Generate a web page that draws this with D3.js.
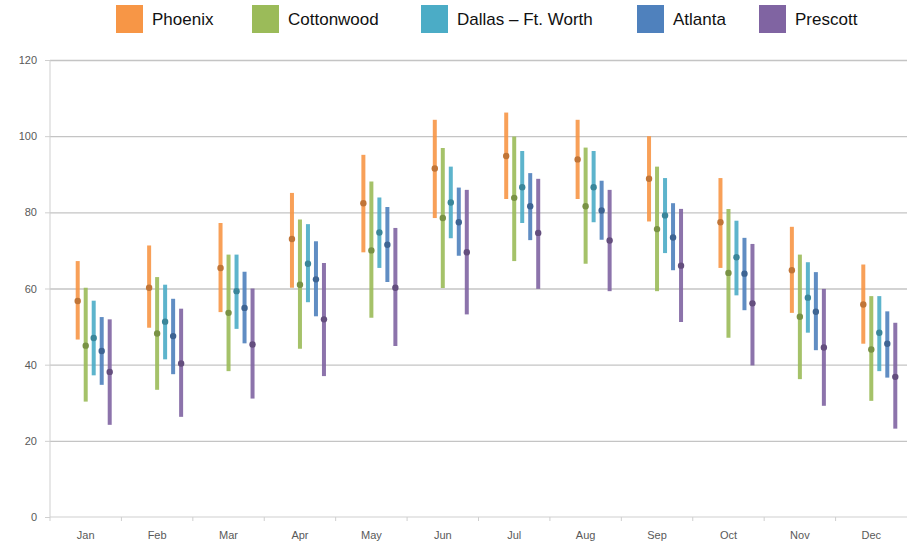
<!DOCTYPE html>
<html>
<head>
<meta charset="utf-8">
<script src="https://cdn.jsdelivr.net/npm/d3@7"></script>
<style>
  body { margin: 0; background: #fff; }
  svg { display: block; }
  .grid line { stroke: #c4c4c4; stroke-width: 1.3; }
  .grid path { display: none; }
  .axis text { fill: #595959; font-family: "Liberation Sans", Arial, sans-serif; font-size: 11px; }
  .axis path, .axis line { stroke: #cfcfcf; }
  .legend text { font-family: "Liberation Sans", Arial, sans-serif; font-size: 17px; fill: #111; }
</style>
</head>
<body>
<div id="chart"></div>
<script>
var months = ["Jan", "Feb", "Mar", "Apr", "May", "Jun", "Jul", "Aug", "Sep", "Oct", "Nov", "Dec"];
var cities = ["Phoenix", "Cottonwood", "Dallas \u2013 Ft. Worth", "Atlanta", "Prescott"];
var colors = ["#F79646", "#9BBB59", "#4BACC6", "#4F81BD", "#8064A2"];
var yTicks = [0, 20, 40, 60, 80, 100, 120];

// high / low / average temperature per month
var phoenixHigh = [67.2, 71.3, 77.2, 85.1, 95.1, 104.3, 106.2, 104.3, 100, 89, 76.2, 66.3];
var phoenixLow  = [46.6, 49.7, 53.8, 60.2, 69.5, 78.5, 83.5, 83.5, 77.6, 65.4, 53.6, 45.5];
var phoenixAvg  = [56.7, 60.2, 65.4, 73, 82.4, 91.5, 94.8, 93.9, 88.8, 77.4, 64.8, 55.8];

var cottonwoodHigh = [60.2, 63, 68.9, 78.1, 88.1, 96.9, 99.9, 97, 92, 80.9, 68.9, 58];
var cottonwoodLow  = [30.3, 33.4, 38.3, 44.2, 52.3, 60.1, 67.2, 66.5, 59.3, 47.1, 36.2, 30.5];
var cottonwoodAvg  = [45, 48.2, 53.6, 61, 70, 78.5, 83.8, 81.6, 75.6, 64.1, 52.6, 44];

var dallasHigh = [56.8, 61, 68.9, 76.9, 83.9, 92, 96.1, 96.1, 89, 77.8, 66.9, 58];
var dallasLow  = [37.2, 41.4, 49.4, 56.4, 65.4, 73.2, 77.2, 77.4, 69.3, 58.2, 48.4, 38.3];
var dallasAvg  = [47, 51.3, 59.3, 66.5, 74.7, 82.6, 86.6, 86.6, 79.2, 68.2, 57.6, 48.4];

var atlantaHigh = [52.5, 57.3, 64.4, 72.4, 81.4, 86.5, 90.3, 88.3, 82.4, 73.3, 64.3, 54];
var atlantaLow  = [34.7, 37.5, 45.6, 52.7, 61.7, 68.6, 72.7, 72.8, 64.8, 54.3, 43.8, 36.6];
var atlantaAvg  = [43.6, 47.5, 54.9, 62.4, 71.5, 77.4, 81.6, 80.5, 73.4, 63.9, 53.9, 45.5];

var prescottHigh = [51.9, 54.7, 60, 66.7, 75.9, 85.9, 88.8, 85.9, 80.9, 71.7, 59.9, 51];
var prescottLow  = [24.2, 26.3, 31.1, 37, 44.9, 53.2, 59.9, 59.3, 51.2, 39.8, 29.2, 23.2];
var prescottAvg  = [38.1, 40.3, 45.3, 51.9, 60.2, 69.5, 74.6, 72.6, 66, 56.1, 44.5, 36.8];

var highs = [phoenixHigh, cottonwoodHigh, dallasHigh, atlantaHigh, prescottHigh];
var lows = [phoenixLow, cottonwoodLow, dallasLow, atlantaLow, prescottLow];
var avgs = [phoenixAvg, cottonwoodAvg, dallasAvg, atlantaAvg, prescottAvg];

var width = 914, height = 548;
var margin = { left: 50, right: 907, top: 60, bottom: 517 };

var svg = d3.select("#chart").append("svg")
  .attr("width", width)
  .attr("height", height);

var xScale = d3.scaleBand().domain(months).range([margin.left, margin.right]);
var yScale = d3.scaleLinear().domain([0, 120]).range([margin.bottom, margin.top]);
// offset of each city inside a month
var offset = d3.scaleLinear().domain([0, 4]).range([-8, 24]);

// gridlines
svg.append("g")
  .attr("class", "grid")
  .attr("transform", "translate(" + margin.left + ",0)")
  .call(d3.axisLeft(yScale).tickValues(yTicks.slice(1)).tickSize(-(margin.right - margin.left)).tickFormat(""));

// y axis
var yAxis = svg.append("g")
  .attr("class", "axis")
  .attr("transform", "translate(" + margin.left + ",0)")
  .call(d3.axisLeft(yScale).tickValues(yTicks).tickSize(5).tickPadding(8));
yAxis.select(".domain").attr("d", "M0," + margin.top + "V" + margin.bottom);

// x axis, ticks between the months
var xAxis = svg.append("g")
  .attr("class", "axis")
  .attr("transform", "translate(0," + margin.bottom + ")")
  .call(d3.axisBottom(xScale).tickSize(0).tickPadding(14));
xAxis.select(".domain").attr("d", "M" + margin.left + ",0H" + margin.right);
xAxis.selectAll(".sep")
  .data(months)
  .enter().append("line")
  .attr("class", "sep")
  .attr("x1", function(d) { return xScale(d); })
  .attr("x2", function(d) { return xScale(d); })
  .attr("y1", 0)
  .attr("y2", 4);

// high-low bars and average dots
cities.forEach(function(city, c) {
  var g = svg.append("g").attr("class", "city");
  var cx = function(d, i) { return xScale(months[i]) + xScale.bandwidth() / 2 + offset(c); };

  g.selectAll(".bar")
    .data(months)
    .enter().append("line")
    .attr("class", "bar")
    .attr("x1", cx)
    .attr("x2", cx)
    .attr("y1", function(d, i) { return yScale(highs[c][i]); })
    .attr("y2", function(d, i) { return yScale(lows[c][i]); })
    .attr("stroke", colors[c])
    .attr("stroke-width", 4)
    .attr("stroke-opacity", 0.9);

  g.selectAll(".dot")
    .data(months)
    .enter().append("circle")
    .attr("class", "dot")
    .attr("cx", cx)
    .attr("cy", function(d, i) { return yScale(avgs[c][i]); })
    .attr("r", 3.2)
    .attr("fill", d3.color(colors[c]).darker(0.7));
});

// legend
var legendX = [116, 252, 421, 637, 759];
var legend = svg.append("g").attr("class", "legend");
cities.forEach(function(city, c) {
  legend.append("rect")
    .attr("x", legendX[c])
    .attr("y", 5)
    .attr("width", 27)
    .attr("height", 28)
    .attr("fill", colors[c]);
  legend.append("text")
    .attr("x", legendX[c] + 36)
    .attr("y", 25)
    .text(city);
});
</script>
</body>
</html>
